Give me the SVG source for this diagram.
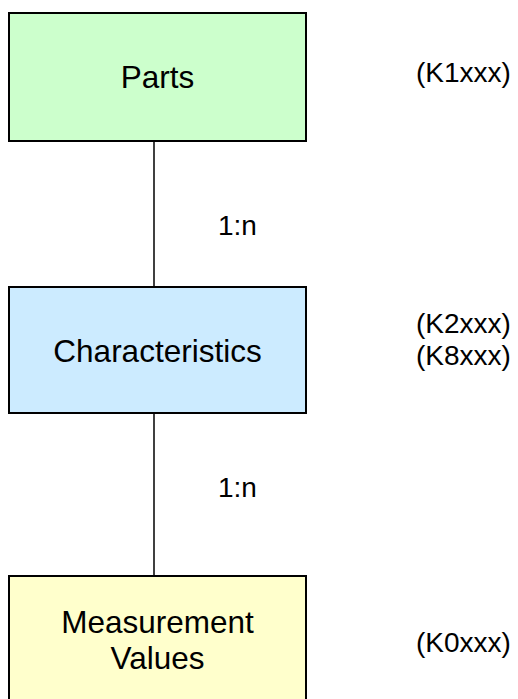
<svg xmlns="http://www.w3.org/2000/svg" width="518" height="699" viewBox="0 0 518 699">
<style>
.box{stroke:#000;stroke-width:2}
.t{font-family:"Liberation Sans",Arial,sans-serif;font-size:28px;fill:#000}
.c{text-anchor:middle;font-size:31.5px}
.conn{stroke:#000;stroke-width:1.5;fill:none}
</style>
<rect width="518" height="699" fill="#fff"/>
<g id="connectors">
<line class="conn" x1="154" y1="141" x2="154" y2="287"/>
<line class="conn" x1="154" y1="413" x2="154" y2="576"/>
<text class="t" x="218" y="235">1:n</text>
<text class="t" x="218" y="497">1:n</text>
</g>
<g id="parts">
<rect class="box" x="9" y="13" width="297" height="128" fill="#CCFFCC"/>
<text class="t c" x="157.5" y="88">Parts</text>
<text class="t" x="416" y="82">(K1xxx)</text>
</g>
<g id="characteristics">
<rect class="box" x="9" y="287" width="297" height="126" fill="#CCEBFF"/>
<text class="t c" x="157.5" y="362">Characteristics</text>
<text class="t" x="416" y="333">(K2xxx)</text>
<text class="t" x="416" y="365">(K8xxx)</text>
</g>
<g id="measurement">
<rect class="box" x="9" y="576" width="297" height="130" fill="#FFFFCC"/>
<text class="t c" x="157.5" y="633">Measurement</text>
<text class="t c" x="157.5" y="669">Values</text>
<text class="t" x="416" y="652">(K0xxx)</text>
</g>
</svg>
